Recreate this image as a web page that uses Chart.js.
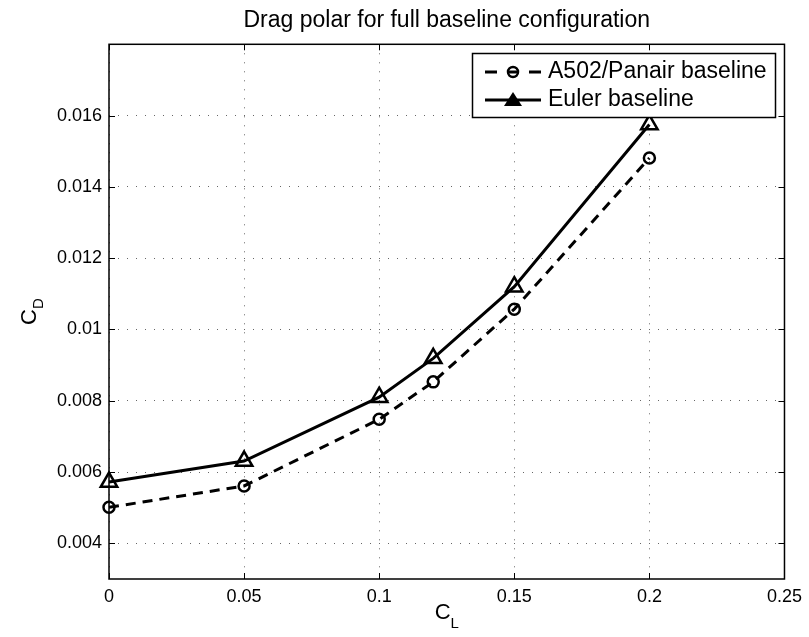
<!DOCTYPE html>
<html>
<head>
<meta charset="utf-8">
<script src="https://cdn.jsdelivr.net/npm/chart.js@4.4.0/dist/chart.umd.min.js"></script>
<style>
  html, body { margin: 0; padding: 0; background: #fff; }
  #wrap { width: 809px; height: 637px; }
</style>
</head>
<body>
<div id="wrap"><canvas id="polar" width="809" height="637"></canvas></div>
<script>
// lift coefficient (x) and drag coefficient (y)
var cl = [0, 0.05, 0.1, 0.12, 0.15, 0.2];
var cdPanair = [0.00501, 0.00561, 0.00748, 0.00853, 0.01057, 0.01481];
var cdEuler = [0.00572, 0.00631, 0.00810, 0.00919, 0.01120, 0.01575];

var seriesNames = ['A502/Panair baseline', 'Euler baseline'];

var xTicks = [0, 0.05, 0.1, 0.15, 0.2, 0.25];
var xTickLabels = ['0', '0.05', '0.1', '0.15', '0.2', '0.25'];
var yTicks = [0.004, 0.006, 0.008, 0.010, 0.012, 0.014, 0.016];
var yTickLabels = ['0.004', '0.006', '0.008', '0.01', '0.012', '0.014', '0.016'];

var FONT = '"Liberation Sans", Arial, Helvetica, sans-serif';

function toPoints(xs, ys) {
    var pts = [];
    for (var i = 0; i < xs.length; i++) {
        pts.push({x: xs[i], y: ys[i]});
    }
    return pts;
}

// box, inward tick marks, axis labels with subscripts, and the boxed legend
var matlabAxes = {
    id: 'matlabAxes',
    beforeDatasetsDraw: function(chart) {
        var ctx = chart.ctx, a = chart.chartArea;
        var xs = chart.scales.x, ys = chart.scales.y;
        var len = 6;
        ctx.save();
        ctx.strokeStyle = '#000';
        ctx.lineWidth = 1;
        ctx.beginPath();
        xTicks.forEach(function(v) {
            var px = Math.round(xs.getPixelForValue(v)) + 0.5;
            ctx.moveTo(px, a.bottom); ctx.lineTo(px, a.bottom - len);
            ctx.moveTo(px, a.top); ctx.lineTo(px, a.top + len);
        });
        yTicks.forEach(function(v) {
            var py = Math.round(ys.getPixelForValue(v)) + 0.5;
            ctx.moveTo(a.left, py); ctx.lineTo(a.left + len, py);
            ctx.moveTo(a.right, py); ctx.lineTo(a.right - len, py);
        });
        ctx.stroke();
        ctx.lineWidth = 1.5;
        ctx.strokeRect(a.left, a.top, a.right - a.left, a.bottom - a.top);
        ctx.restore();
    },
    afterDraw: function(chart) {
        var ctx = chart.ctx, a = chart.chartArea;
        ctx.save();
        ctx.fillStyle = '#000';
        ctx.textBaseline = 'alphabetic';

        // x label: C_L
        ctx.font = '22px ' + FONT;
        var wC = ctx.measureText('C').width;
        ctx.font = '15px ' + FONT;
        var wL = ctx.measureText('L').width;
        var cx = (a.left + a.right) / 2 - (wC + wL) / 2;
        ctx.font = '22px ' + FONT;
        ctx.fillText('C', cx, 619);
        ctx.font = '15px ' + FONT;
        ctx.fillText('L', cx + wC, 628);

        // y label: C_D, rotated
        ctx.save();
        ctx.translate(28, (a.top + a.bottom) / 2);
        ctx.rotate(-Math.PI / 2);
        ctx.font = '15px ' + FONT;
        var wD = ctx.measureText('D').width;
        ctx.font = '22px ' + FONT;
        ctx.fillText('C', -(wC + wD) / 2, 8);
        ctx.font = '15px ' + FONT;
        ctx.fillText('D', -(wC + wD) / 2 + wC, 15);
        ctx.restore();

        // legend
        var bx = 472.5, by = 53.5, bw = 303, bh = 64;
        ctx.fillStyle = '#fff';
        ctx.fillRect(bx, by, bw, bh);
        ctx.strokeStyle = '#000';
        ctx.lineWidth = 1.5;
        ctx.strokeRect(bx, by, bw, bh);

        var r1 = 72, r2 = 100, mx = 513;
        ctx.lineWidth = 3;
        ctx.beginPath();
        ctx.moveTo(485, r1); ctx.lineTo(497, r1);
        ctx.moveTo(508, r1); ctx.lineTo(518, r1);
        ctx.moveTo(529, r1); ctx.lineTo(541, r1);
        ctx.stroke();
        ctx.lineWidth = 2.5;
        ctx.beginPath();
        ctx.arc(mx, r1, 5, 0, Math.PI * 2);
        ctx.stroke();

        ctx.lineWidth = 3;
        ctx.beginPath();
        ctx.moveTo(485, r2); ctx.lineTo(541, r2);
        ctx.stroke();
        ctx.fillStyle = '#000';
        ctx.beginPath();
        ctx.moveTo(mx, r2 - 8);
        ctx.lineTo(mx + 9, r2 + 6);
        ctx.lineTo(mx - 9, r2 + 6);
        ctx.closePath();
        ctx.fill();

        ctx.font = '23px ' + FONT;
        ctx.textBaseline = 'middle';
        ctx.fillText(seriesNames[0], 548, r1);
        ctx.fillText(seriesNames[1], 548, r2);
        ctx.restore();
    }
};

var gridStyle = {
    color: 'rgba(0,0,0,0.6)',
    lineWidth: 1,
    drawTicks: false
};

var chart = new Chart(document.getElementById('polar'), {
    type: 'scatter',
    data: {
        datasets: [{
            label: seriesNames[0],
            data: toPoints(cl, cdPanair),
            showLine: true,
            borderColor: '#000',
            backgroundColor: 'rgba(0,0,0,0)',
            borderWidth: 3,
            borderDash: [10, 7],
            pointStyle: 'circle',
            pointRadius: 5.5,
            pointBorderWidth: 2.5,
            pointBackgroundColor: 'rgba(0,0,0,0)',
            clip: false
        }, {
            label: seriesNames[1],
            data: toPoints(cl, cdEuler),
            showLine: true,
            borderColor: '#000',
            backgroundColor: 'rgba(0,0,0,0)',
            borderWidth: 3,
            pointStyle: 'triangle',
            pointRadius: 9.5,
            pointBorderWidth: 2.5,
            pointBackgroundColor: 'rgba(0,0,0,0)',
            clip: false
        }]
    },
    options: {
        responsive: false,
        animation: false,
        events: [],
        layout: { padding: { left: 0, right: 23, top: 0, bottom: 0 } },
        plugins: {
            legend: { display: false },
            tooltip: { enabled: false },
            title: {
                display: true,
                fullSize: false,
                text: 'Drag polar for full baseline configuration',
                color: '#000',
                font: { family: FONT, size: 23, weight: 'normal', lineHeight: 1.2 },
                padding: { top: 6.5, bottom: 10.2 }
            }
        },
        scales: {
            x: {
                type: 'linear',
                min: 0,
                max: 0.25,
                afterBuildTicks: function(scale) {
                    scale.ticks = xTicks.map(function(v) { return {value: v}; });
                },
                afterFit: function(scale) { scale.height = 58; },
                grid: gridStyle,
                border: { display: false, dash: [1, 8] },
                ticks: {
                    color: '#000',
                    padding: 7,
                    maxRotation: 0,
                    font: { family: FONT, size: 18 },
                    callback: function(v, i) { return xTickLabels[i]; }
                }
            },
            y: {
                type: 'linear',
                min: 0.003,
                max: 0.018,
                afterBuildTicks: function(scale) {
                    scale.ticks = yTicks.map(function(v) { return {value: v}; });
                },
                afterFit: function(scale) { scale.width = 109; },
                grid: gridStyle,
                border: { display: false, dash: [1, 8] },
                ticks: {
                    color: '#000',
                    padding: 7,
                    font: { family: FONT, size: 18 },
                    callback: function(v, i) { return yTickLabels[i]; }
                }
            }
        }
    },
    plugins: [matlabAxes]
});
</script>
</body>
</html>
